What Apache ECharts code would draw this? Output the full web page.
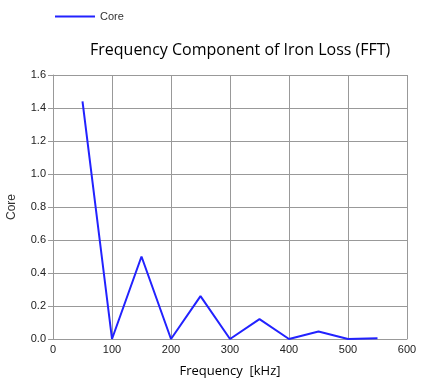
<!DOCTYPE html>
<html><head><meta charset="utf-8">
<script src="https://cdn.jsdelivr.net/npm/echarts@6/dist/echarts.min.js"></script>
<style>html,body{margin:0;padding:0;background:#fff}#c{width:426px;height:390px}</style>
</head><body><div id="c"></div>
<script>
var freqs = [50, 100, 150, 200, 250, 300, 350, 400, 450, 500, 550];
var coreValues = [1.44, 0.0, 0.50, 0.0, 0.26, 0.0, 0.12, 0.0, 0.045, 0.0, 0.005];
var seriesName = 'Core';
var titleText = 'Frequency Component of Iron Loss (FFT)';
var xName = 'Frequency  [kHz]';
var yName = 'Core';

var chart = echarts.init(document.getElementById('c'));
chart.setOption({
  animation: false,
  backgroundColor: '#fff',
  title: {text: titleText, left: 85, top: 37, textStyle: {fontFamily: 'Open Sans', fontSize: 16, fontWeight: 'normal', color: '#000'}},
  legend: {left: 50, top: 6, itemWidth: 40, itemHeight: 2, itemGap: 2, icon: 'rect',
    textStyle: {fontFamily: 'Liberation Sans', fontSize: 11, color: '#333'},
    data: [{name: seriesName, icon: 'path://M0,0 L40,0 L40,2 L0,2 Z'}]},
  grid: {left: 53, right: 19, top: 75, bottom: 51, outerBoundsMode: 'none', containLabel: false},
  xAxis: {type: 'value', min: 0, max: 600, interval: 100, name: xName, nameLocation: 'middle', nameGap: 26,
    nameTextStyle: {fontFamily: 'Open Sans', fontSize: 13, color: '#000'},
    axisLine: {show: true, lineStyle: {color: '#999'}}, axisTick: {show: false},
    axisLabel: {fontFamily: 'Liberation Sans', fontSize: 11, color: '#222', margin: 5},
    splitLine: {show: true, lineStyle: {color: '#999', width: 1}}},
  yAxis: {type: 'value', min: 0, max: 1.6, interval: 0.2, name: yName, nameLocation: 'middle', nameGap: 35,
    nameTextStyle: {fontFamily: 'Liberation Sans', fontSize: 12, color: '#333'},
    axisLine: {show: true, lineStyle: {color: '#999'}}, axisTick: {show: true, length: 5, inside: false, lineStyle: {color: '#999'}},
    axisLabel: {fontFamily: 'Liberation Sans', fontSize: 11, color: '#222', margin: 7, formatter: function(v){return v.toFixed(1);}},
    splitLine: {show: true, lineStyle: {color: '#999', width: 1}}},
  series: [{name: seriesName, type: 'line', data: freqs.map(function(f, i){return [f, coreValues[i]];}),
    symbol: 'none', lineStyle: {color: '#2222ff', width: 2}, itemStyle: {color: '#2222ff'}}]
});
</script></body></html>
